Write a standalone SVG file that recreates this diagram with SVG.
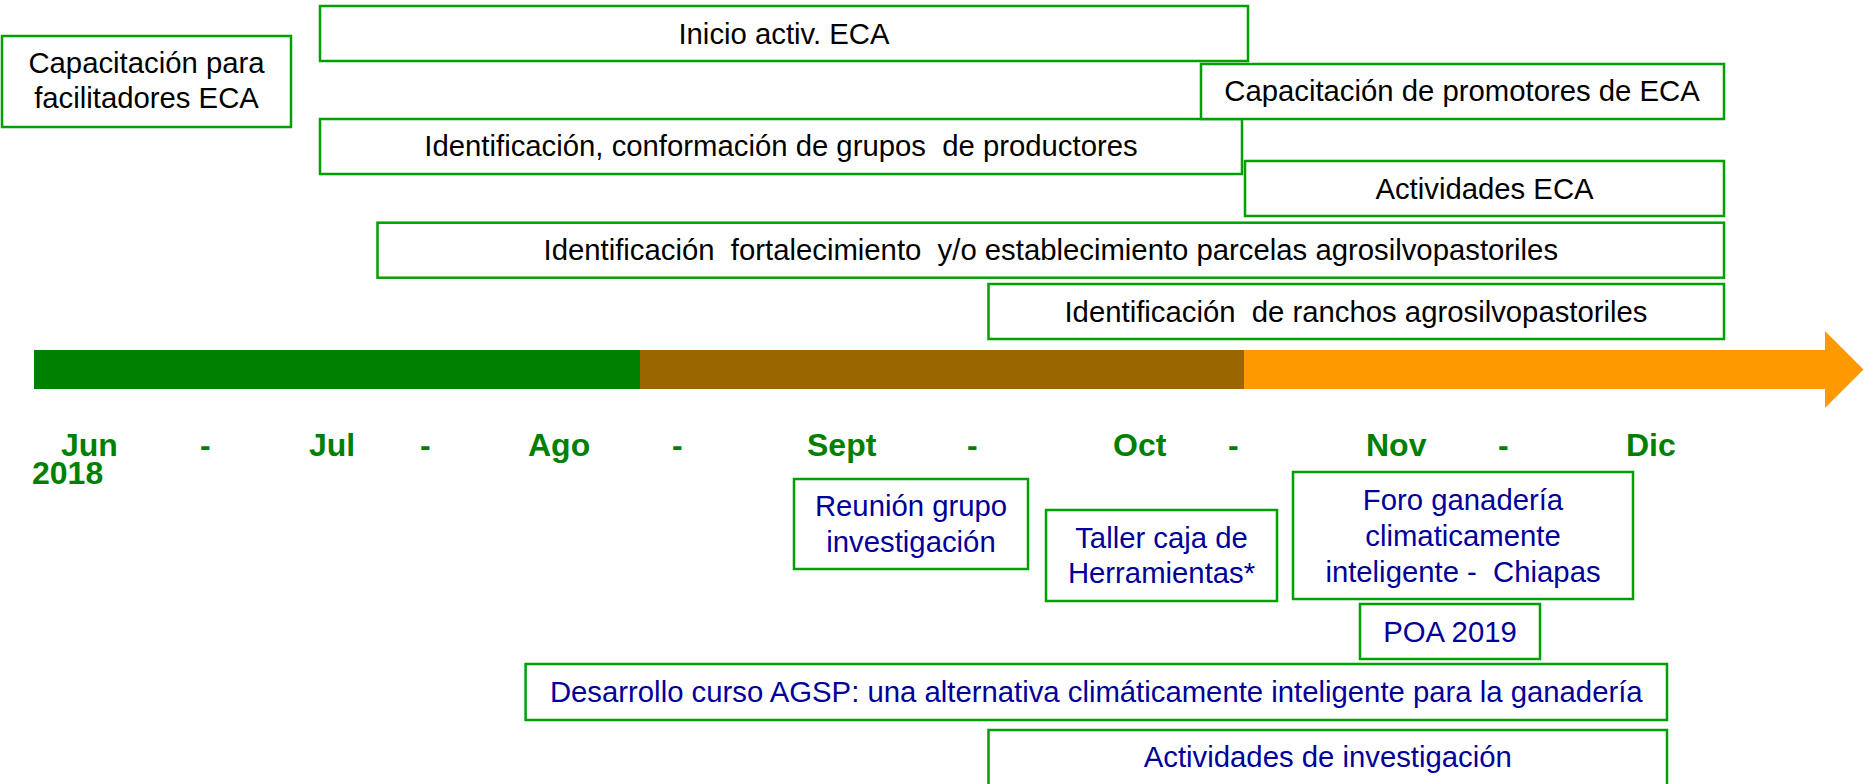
<svg xmlns="http://www.w3.org/2000/svg" width="1864" height="784" viewBox="0 0 1864 784">
<style>
.box{fill:#fff;stroke:#00A000;stroke-width:2.5}
.t{font-family:"Liberation Sans",Arial,sans-serif;font-size:29.3px;text-anchor:middle;white-space:pre}
.k{fill:#000}
.b{fill:#000099}
.m{font-family:"Liberation Sans",Arial,sans-serif;font-size:32px;font-weight:bold;fill:#008000;white-space:pre}
</style>
<rect width="1864" height="784" fill="#fff"/>
<g id="timeline">
<rect x="34" y="350" width="606" height="39" fill="#008000"/>
<rect x="640" y="350" width="604" height="39" fill="#996600"/>
<polygon points="1244,350 1825,350 1825,331 1863.5,369.5 1825,408 1825,389 1244,389" fill="#FF9900"/>
</g>
<g id="months">
<text class="m"><tspan x="61" y="456">Jun</tspan><tspan x="200" y="456">-</tspan><tspan x="309" y="456">Jul</tspan><tspan x="420" y="456">-</tspan><tspan x="528" y="456">Ago</tspan><tspan x="672" y="456">-</tspan><tspan x="807" y="456">Sept</tspan><tspan x="967" y="456">-</tspan><tspan x="1113" y="456">Oct</tspan><tspan x="1228" y="456">-</tspan><tspan x="1366" y="456">Nov</tspan><tspan x="1498" y="456">-</tspan><tspan x="1626" y="456">Dic</tspan><tspan x="32" y="484">2018</tspan></text>
</g>
<g id="n1"><rect class="box" x="2" y="36" width="289" height="91"/>
<text class="t k" x="146.5" y="73">Capacitación para</text><text class="t k" x="146.5" y="108">facilitadores ECA</text></g>
<g id="n2"><rect class="box" x="320" y="6" width="928" height="55"/>
<text class="t k" x="784" y="44">Inicio activ. ECA</text></g>
<g id="n3"><rect class="box" x="320" y="119" width="922" height="55"/>
<text class="t k" x="781" y="156">Identificación, conformación de grupos  de productores</text></g>
<g id="n4"><rect class="box" x="1201" y="64" width="523" height="55"/>
<text class="t k" x="1462" y="101">Capacitación de promotores de ECA</text></g>
<g id="n5"><rect class="box" x="1245" y="161" width="479" height="55"/>
<text class="t k" x="1484.5" y="198.5">Actividades ECA</text></g>
<g id="n6"><rect class="box" x="377.5" y="222.7" width="1346.5" height="55"/>
<text class="t k" x="1050.8" y="260">Identificación  fortalecimiento  y/o establecimiento parcelas agrosilvopastoriles</text></g>
<g id="n7"><rect class="box" x="988.5" y="284" width="735.5" height="55"/>
<text class="t k" x="1356" y="321.5">Identificación  de ranchos agrosilvopastoriles</text></g>
<g id="n8"><rect class="box" x="794" y="479" width="234" height="90"/>
<text class="t b" x="911" y="516">Reunión grupo</text><text class="t b" x="911" y="551.5">investigación</text></g>
<g id="n9"><rect class="box" x="1046" y="510" width="231" height="91"/>
<text class="t b" x="1161.5" y="547.5">Taller caja de</text><text class="t b" x="1161.5" y="583">Herramientas*</text></g>
<g id="n10"><rect class="box" x="1293" y="472" width="340" height="127"/>
<text class="t b" x="1463" y="510">Foro ganadería</text><text class="t b" x="1463" y="545.7">climaticamente</text><text class="t b" x="1463" y="581.5">inteligente -  Chiapas</text></g>
<g id="n11"><rect class="box" x="1360" y="604" width="180" height="55"/>
<text class="t b" x="1450" y="641.5">POA 2019</text></g>
<g id="n12"><rect class="box" x="525.6" y="664" width="1141.4" height="56"/>
<text class="t b" x="1096.3" y="701.5">Desarrollo curso AGSP: una alternativa climáticamente inteligente para la ganadería</text></g>
<g id="n13"><rect class="box" x="988.5" y="730" width="678.5" height="60"/>
<text class="t b" x="1327.8" y="766.5">Actividades de investigación</text></g>
<g id="connectors"></g>
</svg>
